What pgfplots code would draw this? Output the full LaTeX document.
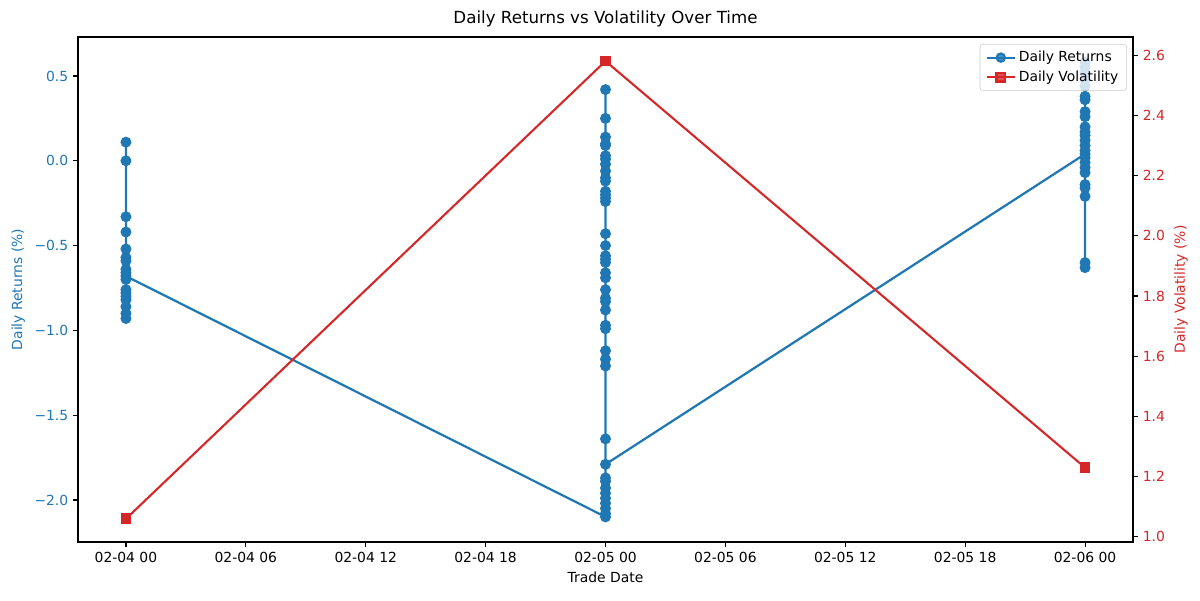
\documentclass[border=0pt]{standalone}
\usepackage{fontspec}
\setmainfont{DejaVu Sans}
\usepackage{pgfplots}
\pgfplotsset{compat=1.18}
\usetikzlibrary{calc}
\definecolor{tabblue}{HTML}{1F77B4}
\definecolor{tabred}{HTML}{D62728}

\pgfplotsset{
  twin/.style={
    scale only axis, width=759.6pt, height=363.6pt,
    xmin=-0.1, xmax=2.1,
    tick align=outside, major tick length=3.5pt,
    tick style={black, line width=0.8pt},
    axis line style={line width=0.8pt},
    /pgf/number format/assume math mode=true,
    tick label style={font=\fontsize{10}{12}\selectfont},
    label style={font=\fontsize{10}{12}\selectfont},
  }
}

\begin{document}
\begin{tikzpicture}
\begin{axis}[
  twin,
  ymin=-2.248, ymax=0.73,
  xtick={0,0.25,0.5,0.75,1,1.25,1.5,1.75,2},
  xticklabels={02-04 00,02-04 06,02-04 12,02-04 18,02-05 00,02-05 06,02-05 12,02-05 18,02-06 00},
  xtick pos=lower, ytick pos=left,
  ytick={-2,-1.5,-1,-0.5,0,0.5},
  yticklabels={−2.0,−1.5,−1.0,−0.5,0.0,0.5},
  yticklabel style={text=tabblue},
  xlabel={Trade Date},
  ylabel={Daily Returns (\%)},
  ylabel style={text=tabblue},
  title={Daily Returns vs Volatility Over Time},
  title style={font=\fontsize{12}{14}\selectfont, yshift=-2pt},
]
\coordinate (ll) at (rel axis cs:0,0);
\addplot[tabblue, line width=1.6pt, mark=*, mark size=3.1pt, mark options={fill=tabblue}] coordinates {
  (0,0.11) (0,0.00) (0,-0.33) (0,-0.42) (0,-0.52) (0,-0.57) (0,-0.59)
  (0,-0.64) (0,-0.66) (0,-0.70) (0,-0.76) (0,-0.78) (0,-0.80) (0,-0.82)
  (0,-0.86) (0,-0.90) (0,-0.93) (0,-0.68)
  (1,-2.10) (1,-2.08) (1,-2.05) (1,-2.02) (1,-1.99) (1,-1.96) (1,-1.93)
  (1,-1.89) (1,-1.87) (1,-1.64) (1,-1.21) (1,-1.17) (1,-1.12) (1,-0.99)
  (1,-0.97) (1,-0.88) (1,-0.83) (1,-0.81) (1,-0.76) (1,-0.69) (1,-0.66)
  (1,-0.60) (1,-0.58) (1,-0.56) (1,-0.50) (1,-0.43) (1,-0.24) (1,-0.22)
  (1,-0.20) (1,-0.18) (1,-0.12) (1,-0.10) (1,-0.06) (1,-0.02) (1,0.01)
  (1,0.03) (1,0.09) (1,0.10) (1,0.14) (1,0.25) (1,0.42) (1,-1.79)
  (2,0.04) (2,0.58) (2,0.55) (2,0.52) (2,0.48) (2,0.44) (2,0.38) (2,0.36)
  (2,0.29) (2,0.26) (2,0.20) (2,0.17) (2,0.15) (2,0.12) (2,0.09) (2,0.06)
  (2,0.02) (2,-0.01) (2,-0.04) (2,-0.07) (2,-0.14) (2,-0.16) (2,-0.21)
  (2,-0.60) (2,-0.63)
};
\end{axis}
\begin{axis}[
  twin,
  ymin=0.983, ymax=2.66,
  axis x line=none,
  axis y line*=right,
  ytick={1.0,1.2,1.4,1.6,1.8,2.0,2.2,2.4,2.6},
  yticklabel style={text=tabred, /pgf/number format/fixed, /pgf/number format/fixed zerofill, /pgf/number format/precision=1},
  ylabel={Daily Volatility (\%)},
  ylabel style={text=tabred},
  legend style={at={(0.9943,0.986)}, anchor=north east, draw=black!20,
    rounded corners=2pt, fill=white, fill opacity=0.8, text opacity=1,
    font=\fontsize{10}{12}\selectfont, row sep=1pt,
    inner xsep=4pt, inner ysep=3pt},
  legend cell align=left,
  legend image code/.code={
    \draw[mark repeat=2, mark phase=2] plot coordinates {(0cm,0cm) (0.36cm,0cm) (0.72cm,0cm)};
  },
]
\addlegendimage{tabblue, line width=1.5pt, mark=*, mark size=3pt, mark options={fill=tabblue}}
\addlegendentry{Daily Returns}
\addplot[tabred, line width=1.5pt, mark=square*, mark size=3.1pt, mark options={fill=tabred}] coordinates {
  (0,1.06) (1,2.58) (2,1.23)
};
\addlegendentry{Daily Volatility}
\end{axis}
\pgfresetboundingbox
\path ($(ll)+(-56.16pt,-41.76pt)$) rectangle ($(ll)+(807.84pt,390.24pt)$);
\end{tikzpicture}
\end{document}
